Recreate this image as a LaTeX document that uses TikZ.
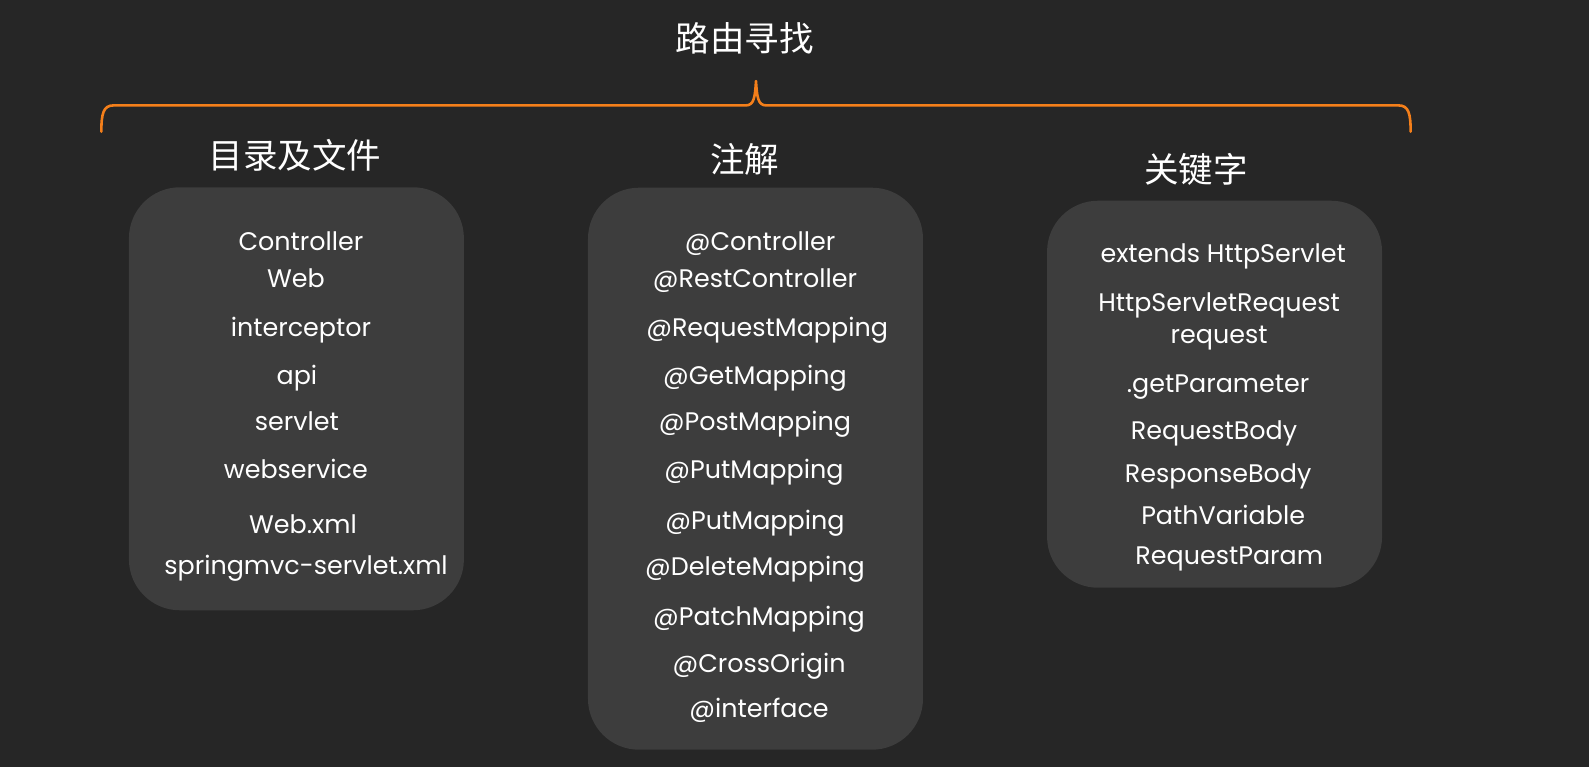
\documentclass[tikz,border=0pt]{standalone}
\usepackage{fontspec}
\setmainfont{Poppins}
\newfontfamily\cjk{Noto Sans CJK SC}
\definecolor{bgdark}{HTML}{262626}
\definecolor{panelgray}{HTML}{3D3D3D}
\definecolor{braceorange}{HTML}{F47F1A}
\begin{document}
\begin{tikzpicture}[x=1.0134pt,y=-1.0134pt,%
% common options for the grey panels:
panel/.style = {fill=panelgray, rounded corners=51pt, inner sep=0},
% common options for the entries:
entry/.style = {text=white, anchor=base, inner sep=0,
            font=\fontsize{25.4}{29}\selectfont},
% common options for the chinese headings:
heading/.style = {text=white, inner sep=0, font=\cjk\fontsize{34.5}{38}\selectfont}]
\fill[bgdark] (0,0) rectangle (1568,757);
\useasboundingbox (0,0) rectangle (1568,757);
% title and brace
\node[heading] (T0) at (735,38) {路由寻找};
\draw[braceorange, line width=2.6pt, line cap=round, line join=round]
  (100,130) .. controls (100,112) and (102,104) .. (112,104) -- (736,104)
  .. controls (744,104) and (745,96) .. (746,80)
  .. controls (747,96) and (748,104) .. (756,104) -- (1380,104)
  .. controls (1390,104) and (1392,112) .. (1392,130);
% panels
\node[panel, minimum width=335pt, minimum height=423pt] (P1) at (292.5,393.5) {};
\node[panel, minimum width=335pt, minimum height=562pt] (P2) at (745.5,462.5) {};
\node[panel, minimum width=335pt, minimum height=387pt] (P3) at (1198.5,389) {};
% headings
\node[heading] (H1) at (291,153) {目录及文件};
\node[heading] (H2) at (735,157) {注解};
\node[heading] (H3) at (1180,167) {关键字};
% first panel
\node[entry] (A1) at (297,247) {Controller};
\node[entry] (A2) at (292,284) {Web};
\node[entry] (A3) at (297,332) {interceptor};
\node[entry] (A4) at (293,379) {api};
\node[entry] (A5) at (293,425) {servlet};
\node[entry] (A6) at (292,472) {webservice};
\node[entry] (A7) at (299,526) {Web.xml};
\node[entry] (A8) at (302,567) {springmvc-servlet.xml};
% second panel
\node[entry] (B1) at (750,247) {@Controller};
\node[entry] (B2) at (745,284) {@RestController};
\node[entry] (B3) at (757,332) {@RequestMapping};
\node[entry] (B4) at (745,379) {@GetMapping};
\node[entry] (B5) at (745,425) {@PostMapping};
\node[entry] (B6) at (744,472) {@PutMapping};
\node[entry] (B7) at (745,522) {@PutMapping};
\node[entry] (B8) at (745,568) {@DeleteMapping};
\node[entry] (B9) at (749,617) {@PatchMapping};
\node[entry] (B10) at (749,664) {@CrossOrigin};
\node[entry] (B11) at (749,708) {@interface};
% third panel
\node[entry] (C1) at (1207,259) {extends HttpServlet};
\node[entry] (C2) at (1203,307) {HttpServletRequest};
\node[entry] (C3) at (1203,339) {request};
\node[entry] (C4) at (1202,387) {.getParameter};
\node[entry] (C5) at (1198,434) {RequestBody};
\node[entry] (C6) at (1202,476) {ResponseBody};
\node[entry] (C7) at (1207,518) {PathVariable};
\node[entry] (C8) at (1213,557) {RequestParam};
\end{tikzpicture}
\end{document}
